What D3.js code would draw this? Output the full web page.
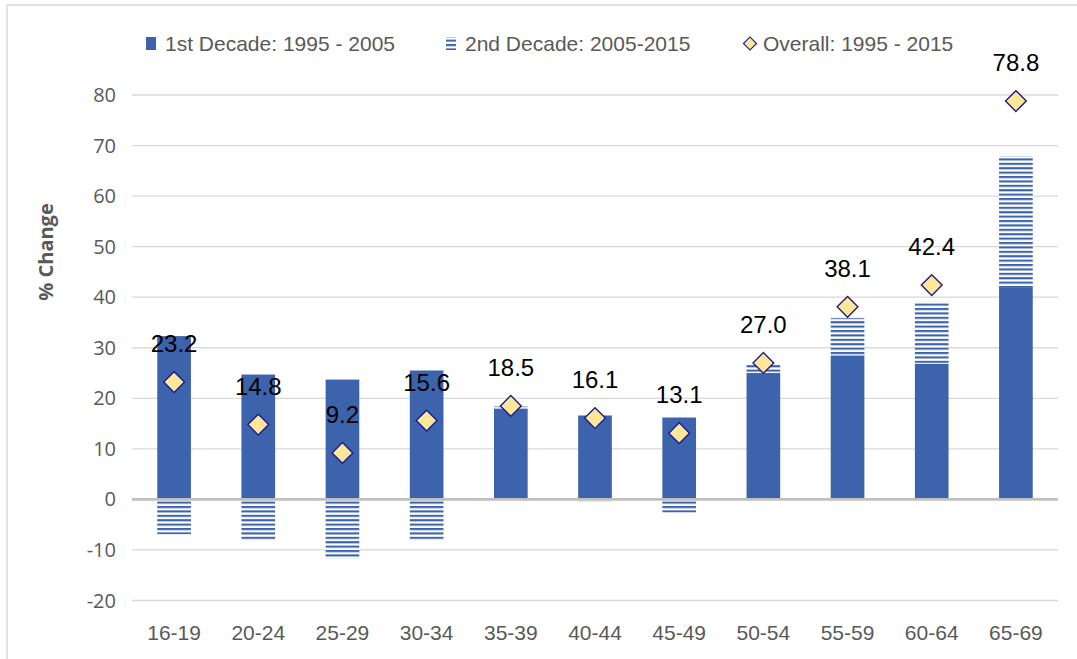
<!DOCTYPE html>
<html>
<head>
<meta charset="utf-8">
<script src="https://cdn.jsdelivr.net/npm/d3@7"></script>
<style>
  html, body { margin: 0; padding: 0; background: #fff; }
  svg { display: block; }
</style>
</head>
<body>
<svg id="chart" width="1077" height="659"></svg>
<script>
// ---- data ----
const categories = ["16-19","20-24","25-29","30-34","35-39","40-44","45-49","50-54","55-59","60-64","65-69"];
const firstDecade = [32.3, 24.7, 23.7, 25.5, 18.0, 16.6, 16.2, 25.0, 28.5, 26.8, 42.0];
const secondDecade = [-6.9, -8.1, -11.7, -8.0, 0.4, -0.4, -2.6, 1.6, 7.4, 12.3, 25.9];
const overall = [23.2, 14.8, 9.2, 15.6, 18.5, 16.1, 13.1, 27.0, 38.1, 42.4, 78.8];
const yTicks = [-20, -10, 0, 10, 20, 30, 40, 50, 60, 70, 80];
const legendLabels = ["1st Decade: 1995 - 2005", "2nd Decade: 2005-2015", "Overall: 1995 - 2015"];
const yTitle = "% Change";

// ---- setup ----
const svg = d3.select("#chart");
const BLUE = "#3C63AB";
const GRID = "#D9D9D9";
const TEXT = "#595959";
const FONT = "'Liberation Sans', Arial, sans-serif";

const plotLeft = 132, plotRight = 1058;
const x = d3.scaleBand().domain(categories).range([plotLeft, plotRight]).paddingInner(0.6).paddingOuter(0.3);
const y = d3.scaleLinear().domain([-20, 80]).range([600.5, 95]);

// pattern
const defs = svg.append("defs");
const pat = defs.append("pattern").attr("id", "hatch").attr("patternUnits", "userSpaceOnUse")
  .attr("width", 8).attr("height", 4.4);
pat.append("rect").attr("width", 8).attr("height", 4.4).attr("fill", "#fff");
pat.append("rect").attr("y", 0).attr("width", 8).attr("height", 2.1).attr("fill", BLUE);

// chart border
svg.append("rect").attr("x", 7).attr("y", 5).attr("width", 1100).attr("height", 700)
  .attr("fill", "none").attr("stroke", GRID).attr("stroke-width", 1.5);

// gridlines
svg.append("g").selectAll("line").data(yTicks.filter(d => d !== 0)).join("line")
  .attr("x1", plotLeft).attr("x2", plotRight)
  .attr("y1", d => y(d)).attr("y2", d => y(d))
  .attr("stroke", GRID).attr("stroke-width", 1.3);

// y tick labels
svg.append("g").selectAll("text").data(yTicks).join("text")
  .attr("x", 116).attr("y", d => y(d)).attr("dy", "0.35em")
  .attr("text-anchor", "end").attr("fill", TEXT)
  .style("font-family", "'Open Sans', sans-serif").style("font-size", "20px")
  .text(d => d);

// y title
svg.append("text").attr("transform", `translate(53, 252) rotate(-90)`)
  .attr("text-anchor", "middle").attr("fill", TEXT)
  .style("font-family", "'Open Sans', sans-serif").style("font-size", "20px").style("font-weight", "bold")
  .text(yTitle);

// bars: 1st decade
const rows = categories.map((c, i) => ({ c, a: firstDecade[i], b: secondDecade[i], o: overall[i] }));
svg.append("g").selectAll("rect").data(rows).join("rect")
  .attr("x", d => x(d.c)).attr("width", x.bandwidth())
  .attr("y", d => y(Math.max(0, d.a))).attr("height", d => Math.abs(y(d.a) - y(0)))
  .attr("fill", BLUE);

// bars: 2nd decade (stacked, diverging)
svg.append("g").selectAll("rect").data(rows).join("rect")
  .attr("x", d => x(d.c)).attr("width", x.bandwidth())
  .attr("y", d => d.b >= 0 ? y(d.a + d.b) : y(0))
  .attr("height", d => d.b >= 0 ? y(d.a) - y(d.a + d.b) : y(d.b) - y(0))
  .attr("fill", "url(#hatch)");

// zero line
svg.append("line").attr("x1", plotLeft).attr("x2", plotRight)
  .attr("y1", y(0)).attr("y2", y(0)).attr("stroke", "#BFBFBF").attr("stroke-width", 2.6);

// diamonds
const diamond = d3.symbol().type(d3.symbolSquare).size(215);
svg.append("g").selectAll("path").data(rows).join("path")
  .attr("d", diamond)
  .attr("transform", d => `translate(${x(d.c) + x.bandwidth() / 2}, ${y(d.o)}) rotate(45)`)
  .attr("fill", "#FFE699").attr("stroke", "#1C1C8C").attr("stroke-width", 1.4);

// data labels
svg.append("g").selectAll("text").data(rows).join("text")
  .attr("x", d => x(d.c) + x.bandwidth() / 2).attr("y", d => y(d.o) - 30)
  .attr("text-anchor", "middle").attr("fill", "#000")
  .style("font-family", FONT).style("font-size", "24px")
  .text(d => d.o.toFixed(1));

// x labels
svg.append("g").selectAll("text").data(categories).join("text")
  .attr("x", d => x(d) + x.bandwidth() / 2).attr("y", 640)
  .attr("text-anchor", "middle").attr("fill", TEXT)
  .style("font-family", FONT).style("font-size", "21px")
  .text(d => d);

// legend
const lg = svg.append("g");
const legendX = [146, 446, 744];
lg.append("rect").attr("x", legendX[0]).attr("y", 37).attr("width", 10).attr("height", 13).attr("fill", BLUE);
lg.append("rect").attr("x", legendX[1]).attr("y", 37).attr("width", 10).attr("height", 13).attr("fill", "url(#hatch)");
lg.append("path").attr("d", d3.symbol().type(d3.symbolSquare).size(85))
  .attr("transform", `translate(${legendX[2] + 6}, 43.5) rotate(45)`)
  .attr("fill", "#FFE699").attr("stroke", "#1C1C8C").attr("stroke-width", 1.2);
lg.selectAll("text").data(legendLabels).join("text")
  .attr("x", (d, i) => legendX[i] + 19).attr("y", 51)
  .attr("fill", TEXT).style("font-family", FONT).style("font-size", "21px")
  .text(d => d);
</script>
</body>
</html>
